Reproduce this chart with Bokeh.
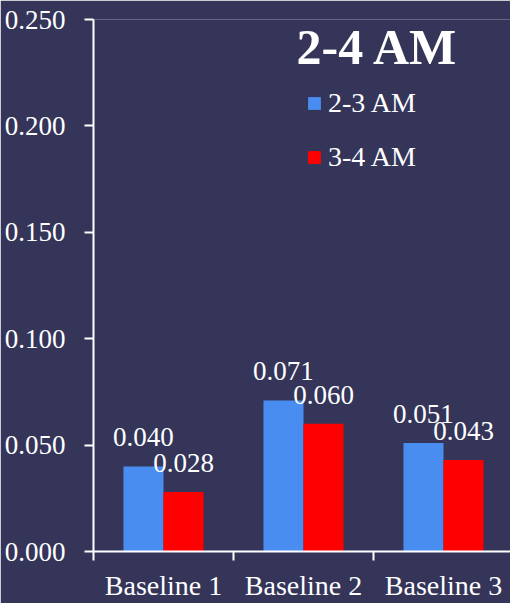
import numpy as np
from bokeh.plotting import figure
from bokeh.models import (Range1d, FixedTicker, NumeralTickFormatter, Legend, LegendItem,
                          Label, ColumnDataSource, LinearAxis)
from bokeh.core.properties import value
from bokeh.embed import file_html
from bokeh.resources import INLINE

categories = ["Baseline 1", "Baseline 2", "Baseline 3"]
series_names = ["2-3 AM", "3-4 AM"]
vals_23 = [0.040, 0.071, 0.051]
vals_34 = [0.028, 0.060, 0.043]
y_ticks = [0.0, 0.05, 0.10, 0.15, 0.20, 0.25]
title_text = "2-4 AM"

BG = "#35355A"
BLUE = "#4A8DF0"
RED = "#FF0000"
FONT = "Liberation Serif"

idx = np.arange(len(categories))
centers = idx + 0.5
bw = 0.286

src_b = ColumnDataSource(dict(x=centers - bw / 2, top=vals_23,
                              lab=[f"{v:.3f}" for v in vals_23]))
src_r = ColumnDataSource(dict(x=centers + bw / 2, top=vals_34,
                              lab=[f"{v:.3f}" for v in vals_34]))

p = figure(width=510, height=603, output_backend="svg", toolbar_location=None,
           x_range=Range1d(0, 417 / 140), y_range=Range1d(0, 0.25),
           min_border_left=93, min_border_right=0, min_border_top=19, min_border_bottom=52,
           x_axis_type=None, y_axis_type=None)
p.background_fill_color = BG
p.border_fill_color = BG
p.outline_line_color = None
p.xgrid.visible = False

yaxis = LinearAxis(ticker=FixedTicker(ticks=y_ticks),
                   formatter=NumeralTickFormatter(format="0.000"))
yaxis.axis_line_color = "white"
yaxis.axis_line_width = 2
yaxis.major_tick_line_color = "white"
yaxis.major_tick_line_width = 2
yaxis.major_tick_out = 9
yaxis.major_tick_in = 0
yaxis.minor_tick_line_color = None
yaxis.major_label_standoff = 19
yaxis.major_label_text_font = FONT
yaxis.major_label_text_font_size = "27px"
yaxis.major_label_text_color = "white"
p.add_layout(yaxis, "left")

xaxis = LinearAxis(ticker=FixedTicker(ticks=list(centers), minor_ticks=list(np.arange(len(categories) + 1))))
xaxis.major_label_overrides = {float(c): n for c, n in zip(centers, categories)}
xaxis.axis_line_color = "white"
xaxis.axis_line_width = 2
xaxis.major_tick_line_color = None
xaxis.major_tick_out = 0
xaxis.major_tick_in = 0
xaxis.minor_tick_line_color = "white"
xaxis.minor_tick_line_width = 2
xaxis.minor_tick_out = 9
xaxis.minor_tick_in = 0
xaxis.major_label_standoff = 9
xaxis.major_label_text_font = FONT
xaxis.major_label_text_font_size = "28px"
xaxis.major_label_text_color = "white"
p.add_layout(xaxis, "below")

p.ygrid.ticker = FixedTicker(ticks=y_ticks)
p.ygrid.grid_line_color = "white"
p.ygrid.grid_line_width = 2

rb = p.vbar(x="x", top="top", width=bw, source=src_b, fill_color=BLUE, line_color=None)
rr = p.vbar(x="x", top="top", width=bw, source=src_r, fill_color=RED, line_color=None)

for s in (src_b, src_r):
    p.text(x="x", y="top", text="lab", source=s, text_align="center",
           text_baseline="alphabetic", y_offset=-29, text_color="white",
           text_font=value(FONT), text_font_size="27px")

legend = Legend(items=[LegendItem(label=series_names[0], renderers=[rb]),
                       LegendItem(label=series_names[1], renderers=[rr])],
                location=(213, 378))
legend.background_fill_alpha = 0
legend.border_line_color = None
legend.padding = 0
legend.margin = 0
legend.glyph_width = 16
legend.glyph_height = 16
legend.label_standoff = 6
legend.spacing = 22
legend.label_text_font = FONT
legend.label_text_font_size = "28px"
legend.label_text_color = "white"
p.add_layout(legend, "center")

title = Label(x=(296 - 93) / 140, y=(551 - 65 + 19) / 2128, text=title_text,
              text_font=FONT, text_font_size="50px", text_font_style="bold",
              text_color="white", text_align="left", text_baseline="alphabetic")
p.add_layout(title)

open("out.html", "w").write(file_html(p, INLINE))
